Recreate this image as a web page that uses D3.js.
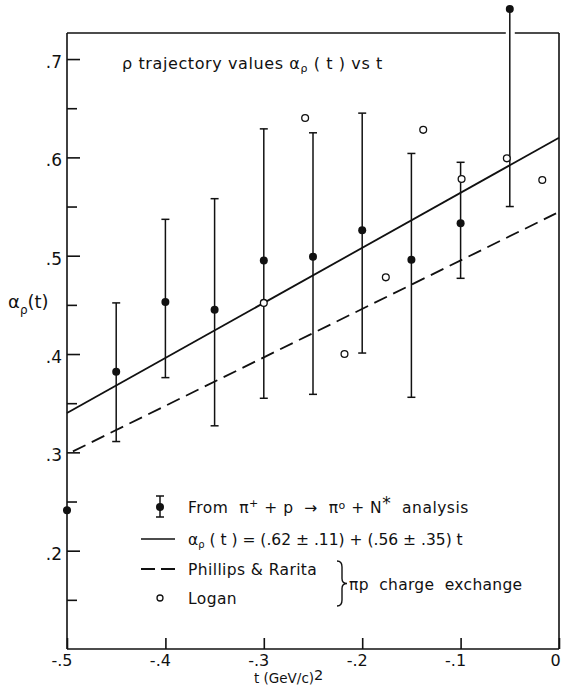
<!DOCTYPE html>
<html>
<head>
<meta charset="utf-8">
<script src="https://cdn.jsdelivr.net/npm/d3@7"></script>
<style>
  html, body { margin: 0; padding: 0; background: #fff; }
  svg { display: block; }
  text { font-family: "DejaVu Sans", sans-serif; fill: #111; }
</style>
</head>
<body>
<svg id="chart" width="561" height="686"></svg>
<script>
// pi+ p -> pi0 N* analysis: t, alpha and error-bar ends
const tN     = [-0.5, -0.45, -0.4, -0.35, -0.3, -0.25, -0.2, -0.15, -0.1, -0.05];
const alphaN = [0.241, 0.382, 0.453, 0.445, 0.495, 0.499, 0.526, 0.496, 0.533, 0.751];
const errHi  = [null, 0.452, 0.537, 0.558, 0.629, 0.625, 0.645, 0.604, 0.595, 0.751];
const errLo  = [null, 0.311, 0.376, 0.327, 0.355, 0.359, 0.401, 0.356, 0.477, 0.550];

// Logan (pi p charge exchange)
const tL     = [-0.3, -0.258, -0.218, -0.176, -0.138, -0.099, -0.053, -0.017];
const alphaL = [0.452, 0.640, 0.400, 0.478, 0.628, 0.578, 0.599, 0.577];

// Phillips & Rarita line end points
const tPR     = [-0.494, -0.003];
const alphaPR = [0.301, 0.543];

// linear fit alpha(t) = a + b t
const fitA = 0.62, fitB = 0.56;
const fitT = [-0.5, 0];

// axis ticks
const xTicks = [-0.5, -0.4, -0.3, -0.2, -0.1, 0];
const xLabels = ["-.5", "-.4", "-.3", "-.2", "-.1", "0"];
const yMajor = [0.2, 0.3, 0.4, 0.5, 0.6, 0.7];
const yLabels = [".2", ".3", ".4", ".5", ".6", ".7"];
const yMinor = [0.15, 0.25, 0.35, 0.45, 0.55, 0.65];

const svg = d3.select("#chart");
const x = d3.scaleLinear().domain([-0.5, 0]).range([67, 559]);
const y = d3.scaleLinear().domain([0.1, 0.7265]).range([649, 33]);

// frame (top edge leaves a gap where the last error bar runs through)
const frame = svg.append("g").attr("stroke", "#111").attr("stroke-width", 1.6).attr("fill", "none");
const gapX = x(-0.05);
frame.append("line").attr("x1", x(-0.5)).attr("x2", gapX - 4).attr("y1", y(0.7265)).attr("y2", y(0.7265));
frame.append("line").attr("x1", gapX + 5).attr("x2", x(0)).attr("y1", y(0.7265)).attr("y2", y(0.7265));
frame.append("line").attr("x1", x(0)).attr("x2", x(0)).attr("y1", y(0.7265)).attr("y2", y(0.1));

// y axis: major ticks with labels, minor ticks without
const yAx = svg.append("g").attr("transform", `translate(${x(-0.5)},0)`)
  .call(d3.axisLeft(y).tickValues(yMajor).tickSize(-13).tickPadding(5)
    .tickFormat((d, i) => yLabels[i]));
svg.append("g").attr("transform", `translate(${x(-0.5)},0)`)
  .call(d3.axisLeft(y).tickValues(yMinor).tickSize(-10).tickFormat(""))
  .select(".domain").remove();
yAx.select(".domain").attr("d", `M0,${y(0.7265)}V${y(0.1)}`);
yAx.selectAll("text").style("font-size", "17px").attr("dy", "0.5em");

// x axis
const xAx = svg.append("g").attr("transform", `translate(0,${y(0.1)})`)
  .call(d3.axisBottom(x).tickValues(xTicks).tickSize(-11).tickPadding(6)
    .tickFormat((d, i) => xLabels[i]));
xAx.select(".domain").attr("d", `M${x(-0.5)},0H${x(0)}`);
xAx.selectAll("text").style("font-size", "16px")
  .attr("text-anchor", d => d < 0 ? "end" : "middle")
  .attr("dx", d => d < 0 ? 5 : -4);

svg.selectAll(".domain, .tick line").attr("stroke", "#111").attr("stroke-width", 1.6);
svg.selectAll(".tick text").attr("fill", "#111");

// fit line and Phillips & Rarita line
const line = d3.line().x(d => x(d[0])).y(d => y(d[1]));
svg.append("path")
  .attr("d", line(fitT.map(t => [t, fitA + fitB * t])))
  .attr("fill", "none").attr("stroke", "#111").attr("stroke-width", 1.8);
svg.append("path")
  .attr("d", line(tPR.map((t, i) => [t, alphaPR[i]])))
  .attr("fill", "none").attr("stroke", "#111").attr("stroke-width", 1.8)
  .attr("stroke-dasharray", "14,7");

// error bars
const bars = svg.append("g").attr("stroke", "#111").attr("stroke-width", 1.5);
tN.forEach((t, i) => {
  if (errHi[i] === null) return;
  const cx = x(t);
  bars.append("line").attr("x1", cx).attr("x2", cx).attr("y1", y(errHi[i])).attr("y2", y(errLo[i]));
  if (errHi[i] > alphaN[i]) bars.append("line").attr("x1", cx - 4).attr("x2", cx + 4).attr("y1", y(errHi[i])).attr("y2", y(errHi[i]));
  bars.append("line").attr("x1", cx - 4).attr("x2", cx + 4).attr("y1", y(errLo[i])).attr("y2", y(errLo[i]));
});

// filled points
svg.append("g").selectAll("circle").data(tN).join("circle")
  .attr("cx", d => x(d)).attr("cy", (d, i) => y(alphaN[i])).attr("r", 4).attr("fill", "#111");

// open circles (Logan)
svg.append("g").selectAll("circle").data(tL).join("circle")
  .attr("cx", d => x(d)).attr("cy", (d, i) => y(alphaL[i])).attr("r", 3.4)
  .attr("fill", "#fff").attr("stroke", "#111").attr("stroke-width", 1.3);

// title
const title = svg.append("text").attr("x", 122).attr("y", 69).style("font-size", "16px").style("letter-spacing", "0.6px");
title.append("tspan").text("ρ trajectory values α");
title.append("tspan").attr("dy", 3).style("font-size", "11px").text("ρ");
title.append("tspan").attr("dy", -3).text(" ( t )  vs  t");

// y label
const yl = svg.append("text").attr("x", 8).attr("y", 308).style("font-size", "18px");
yl.append("tspan").text("α");
yl.append("tspan").attr("dy", 6).style("font-size", "12px").text("ρ");
yl.append("tspan").attr("dy", -6).text("(t)");

// x label
const xl = svg.append("text").attr("x", 254).attr("y", 683).style("font-size", "13.5px");
xl.append("tspan").text("t (GeV/c)");
xl.append("tspan").attr("dy", -3).style("font-size", "14.5px").text("2");

// legend
const lg = svg.append("g");
const symX = 160, txtX = 188;
const rowY = [507, 539, 569, 598];
lg.append("line").attr("x1", symX).attr("x2", symX).attr("y1", rowY[0] - 11).attr("y2", rowY[0] + 10).attr("stroke", "#111").attr("stroke-width", 1.5);
lg.append("line").attr("x1", symX - 4).attr("x2", symX + 4).attr("y1", rowY[0] - 11).attr("y2", rowY[0] - 11).attr("stroke", "#111").attr("stroke-width", 1.5);
lg.append("line").attr("x1", symX - 4).attr("x2", symX + 4).attr("y1", rowY[0] + 10).attr("y2", rowY[0] + 10).attr("stroke", "#111").attr("stroke-width", 1.5);
lg.append("circle").attr("cx", symX).attr("cy", rowY[0]).attr("r", 4).attr("fill", "#111");
lg.append("line").attr("x1", 141).attr("x2", 175).attr("y1", rowY[1]).attr("y2", rowY[1]).attr("stroke", "#111").attr("stroke-width", 1.6);
lg.append("line").attr("x1", 141).attr("x2", 175).attr("y1", rowY[2]).attr("y2", rowY[2]).attr("stroke", "#111").attr("stroke-width", 1.8).attr("stroke-dasharray", "14,6");
lg.append("circle").attr("cx", symX).attr("cy", rowY[3]).attr("r", 3).attr("fill", "#fff").attr("stroke", "#111").attr("stroke-width", 1.3);

const fs = "15.5px";
const r1 = lg.append("text").attr("x", txtX).attr("y", rowY[0] + 6).style("font-size", fs).style("letter-spacing", "0.5px").attr("xml:space", "preserve");
r1.append("tspan").text("From  π");
r1.append("tspan").attr("dy", -6).style("font-size", "11px").text("+");
r1.append("tspan").attr("dy", 6).text(" + p  →  π");
r1.append("tspan").attr("dy", -4).style("font-size", "11px").text("o");
r1.append("tspan").attr("dy", 4).text(" + N");
r1.append("tspan").attr("dy", -4).style("font-size", "17px").text("*");
r1.append("tspan").attr("dy", 4).text("  analysis");

const r2 = lg.append("text").attr("x", txtX).attr("y", rowY[1] + 6).style("font-size", fs).attr("xml:space", "preserve");
r2.append("tspan").text("α");
r2.append("tspan").attr("dy", 3).style("font-size", "10px").text("ρ");
r2.append("tspan").attr("dy", -3).text(" ( t ) = (.62 ± .11) + (.56 ± .35) t");

lg.append("text").attr("x", txtX).attr("y", rowY[2] + 6).style("font-size", fs).style("letter-spacing", "0.4px").text("Phillips & Rarita");
lg.append("text").attr("x", txtX).attr("y", rowY[3] + 6).style("font-size", fs).style("letter-spacing", "0.4px").text("Logan");

// brace grouping the charge-exchange entries
const bx = 337, bt = rowY[2] - 8, bb = rowY[3] + 8, bm = (bt + bb) / 2;
lg.append("path")
  .attr("d", `M${bx},${bt} Q${bx + 5},${bt} ${bx + 5},${bt + 6} L${bx + 5},${bm - 5} Q${bx + 5},${bm} ${bx + 10},${bm} Q${bx + 5},${bm} ${bx + 5},${bm + 5} L${bx + 5},${bb - 6} Q${bx + 5},${bb} ${bx},${bb}`)
  .attr("fill", "none").attr("stroke", "#111").attr("stroke-width", 1.4);
lg.append("text").attr("x", 349).attr("y", bm + 6).style("font-size", fs).style("letter-spacing", "0.3px")
  .attr("xml:space", "preserve").text("πp  charge  exchange");
</script>
</body>
</html>
